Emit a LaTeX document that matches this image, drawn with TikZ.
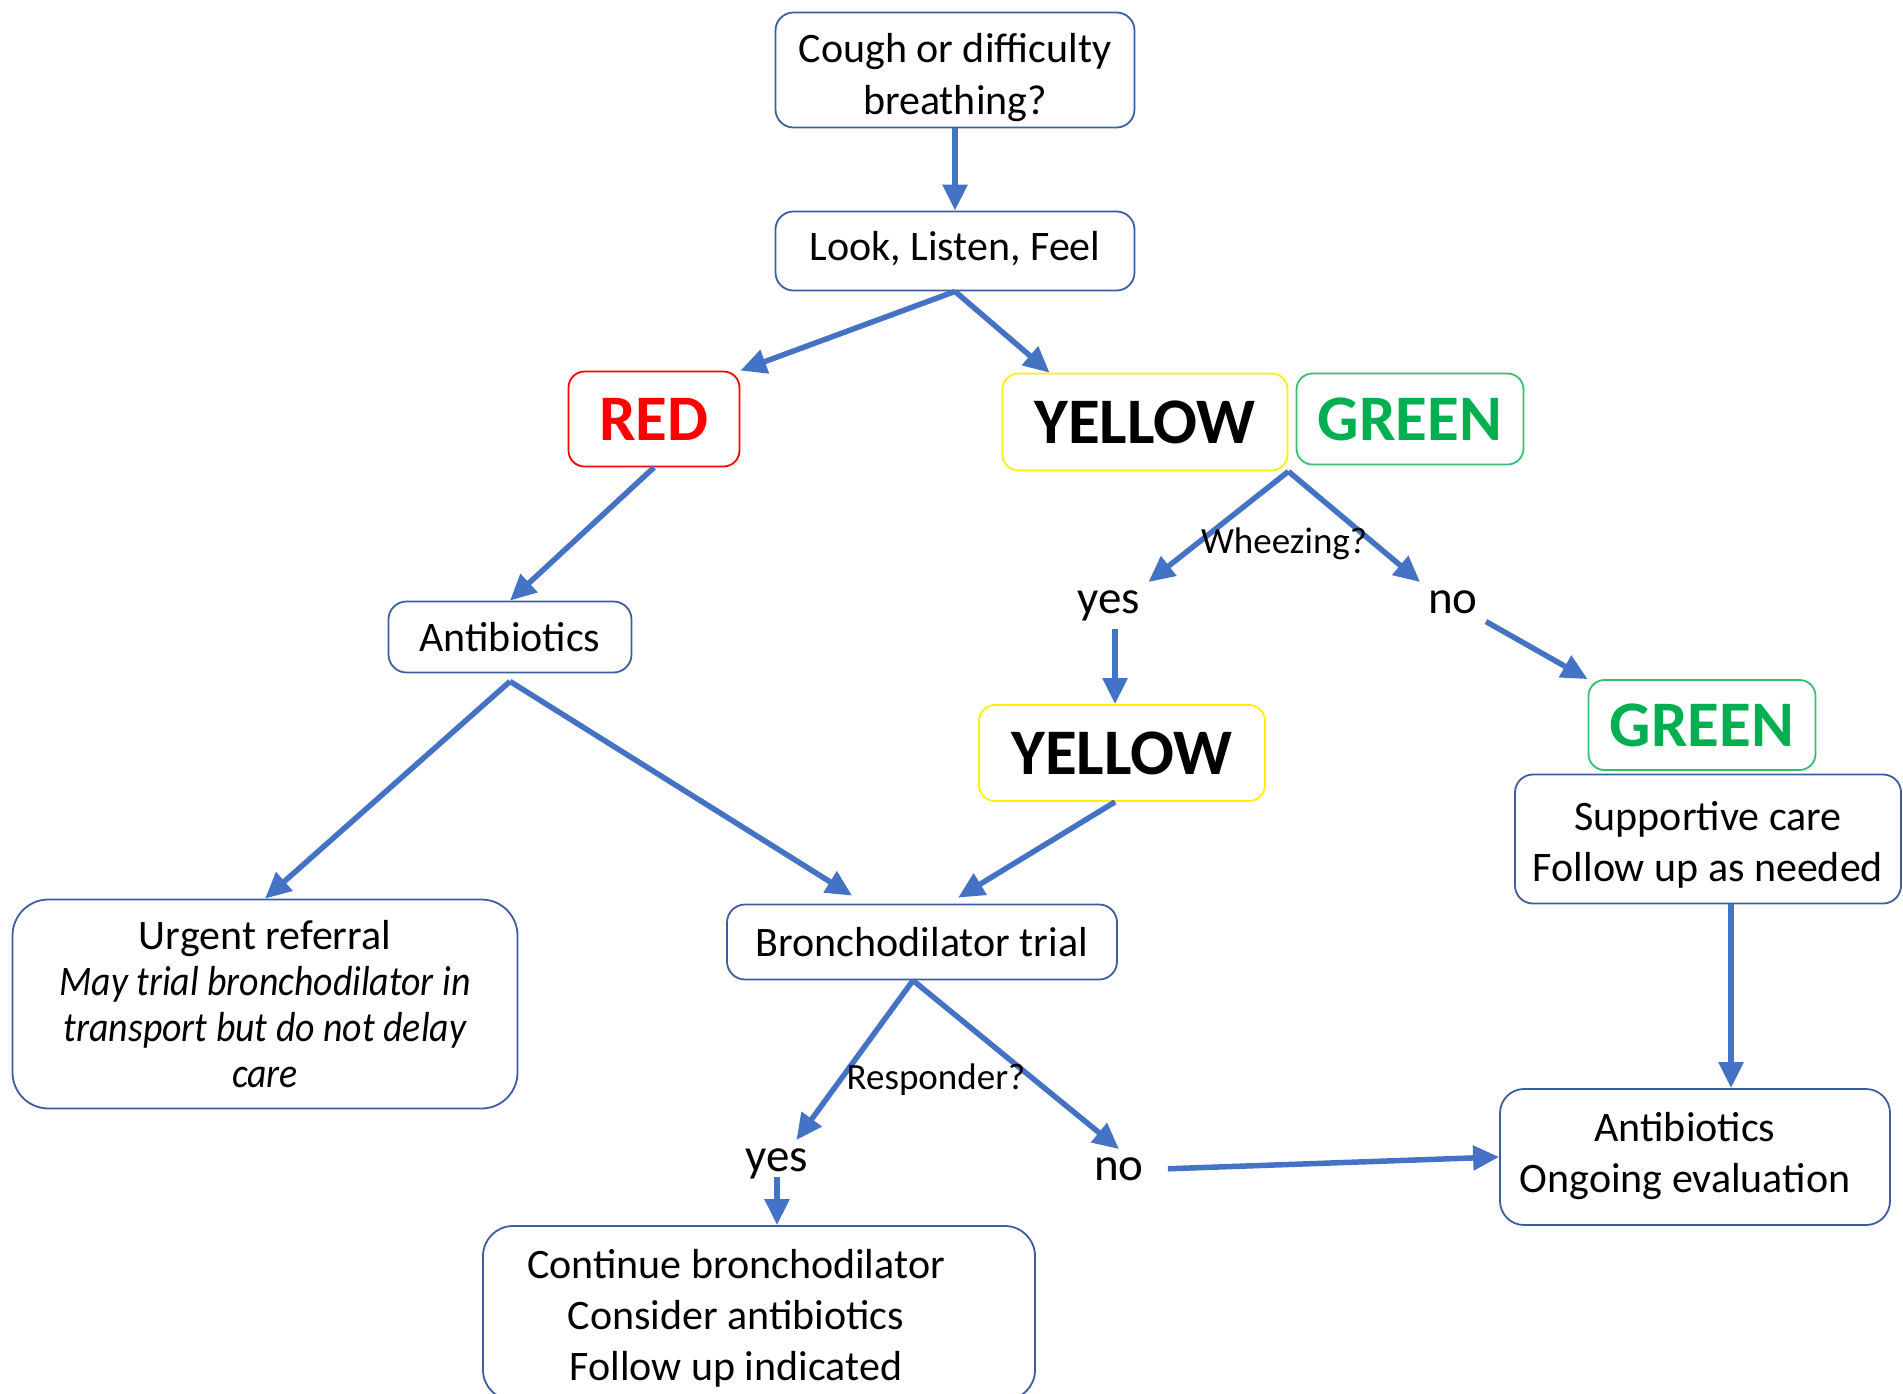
\documentclass[tikz,border=0pt]{standalone}
\usepackage{fontspec}
\setmainfont{Carlito}
\newfontfamily\narrowfam{Carlito}[FakeStretch=0.9]
\usetikzlibrary{arrows.meta, positioning}
\definecolor{arrowblue}{RGB}{68,114,196}
\definecolor{boxblue}{RGB}{59,94,160}
\definecolor{tagred}{RGB}{255,0,0}
\definecolor{tagyellow}{RGB}{255,240,0}
\definecolor{taggreen}{RGB}{0,176,80}

\begin{document}
\begin{tikzpicture}[
        x=1pt, y=-1pt,
        box/.style={rectangle, draw=boxblue, line width=1.8pt, rounded corners=18pt,
                    align=center, inner sep=0pt, font=\fontsize{42}{51}\selectfont},
        tag/.style={rectangle, line width=1.8pt, rounded corners=16pt, inner sep=0pt,
                    font=\fontsize{65}{78}\selectfont\bfseries},
        redtag/.style={tag, draw=tagred, text=tagred},
        yellowtag/.style={tag, draw=tagyellow, text=black},
        greentag/.style={tag, draw=taggreen!80, text=taggreen},
        answer/.style={inner sep=8pt, font=\fontsize{47}{56}\selectfont},
        question/.style={inner sep=0pt, font=\fontsize{37}{44}\selectfont},
        arrow/.style={draw=arrowblue, line width=5.5pt, -{Triangle[length=26pt, width=24pt]}}
    ]
        \useasboundingbox (0,0) rectangle (1903,1393);

        \node[box, minimum width=359pt, minimum height=115pt, font=\fontsize{42}{52}\selectfont] (cough) at (955,70)
              {\rule{0pt}{44pt}Cough or difficulty\\breathing?};
        \node[box, minimum width=359pt, minimum height=79pt] (look) at (955,251) {Look, Listen, Feel\rule[-11pt]{0pt}{0pt}};

        \node[redtag, minimum width=171pt, minimum height=95pt] (red) at (654,419) {RED};
        \node[yellowtag, minimum width=285pt, minimum height=97pt] (yellowA) at (1145,422) {YELLOW};
        \node[greentag, minimum width=227pt, minimum height=91pt] (greenA) at (1410,419) {GREEN};

        \node[box, minimum width=243pt, minimum height=71pt] (antibA) at (510,637) {Antibiotics};
        \node[box, minimum width=505pt, minimum height=209pt, rounded corners=36pt,
              font=\fontsize{42}{46}\selectfont] (urgent) at (265,1004)
              {Urgent referral\\\narrowfam\itshape May trial bronchodilator in\\\narrowfam\itshape transport but do not delay\\\narrowfam\itshape care};
        \node[box, minimum width=390pt, minimum height=75pt] (broncho) at (922,942) {Bronchodilator trial};

        \node[answer, anchor=base] (yesA) at (1109,613) {yes};
        \node[answer, anchor=base] (noA) at (1453,613) {no};
        \node[yellowtag, minimum width=286pt, minimum height=96pt] (yellowB) at (1122,753) {YELLOW};
        \node[greentag, minimum width=227pt, minimum height=90pt] (greenB) at (1702,725) {GREEN};
        \node[box, minimum width=386pt, minimum height=129pt] (support) at (1708,839)
              {\rule{0pt}{40pt}Supportive care\\Follow up as needed};
        \node[box, minimum width=390pt, minimum height=136pt, rounded corners=24pt] (antibB) at (1695,1157)
              {\begin{tabular}{@{}c@{\hspace{20pt}}}Antibiotics\\Ongoing evaluation\end{tabular}};

        \node[answer, anchor=base] (yesB) at (777,1171) {yes};
        \node[answer, anchor=base] (noB) at (1119,1180) {no};
        \node[box, minimum width=552pt, minimum height=174pt, rounded corners=30pt] (cont) at (759,1313)
              {\begin{tabular}{@{}c@{\hspace{46pt}}}\rule{0pt}{48pt}Continue bronchodilator\\Consider antibiotics\\Follow up indicated\end{tabular}};

        \draw[arrow] (cough) -- (look);
        \draw[arrow] (look.south) -- (red.north east);
        \draw[arrow] (look.south) -- ([xshift=48pt]yellowA.north west);
        \draw[arrow] (red.south) -- (antibA.north);
        \draw[arrow] ([yshift=-8pt]antibA.south) -- (urgent.north);
        \draw[arrow] ([yshift=-8pt]antibA.south) -- ([xshift=126pt, yshift=8pt]broncho.north west);

        \draw[arrow] (yellowA.south east) -- (yesA.north east);
        \draw[arrow] (yellowA.south east) -- (noA.north west);
        \draw[arrow] ([xshift=6pt]yesA.south) -- ([xshift=6pt]yesA.south |- yellowB.north);
        \draw[arrow] (noA.south east) -- (greenB.north west);
        \draw[arrow] ([xshift=-7pt]yellowB.south) -- ([xshift=232pt, yshift=6pt]broncho.north west);
        \draw[arrow] ([xshift=23pt]support.south) -- ([xshift=23pt]support.south |- antibB.north);

        \draw[arrow] ([xshift=-9pt]broncho.south) -- ([xshift=-20pt]yesB.north east);
        \draw[arrow] ([xshift=-9pt]broncho.south) -- (noB.north);
        \draw[arrow] ([yshift=10pt]yesB.south) -- (yesB.south |- cont.north);
        \draw[arrow] ([xshift=16pt]noB.east) -- (antibB.west);

        \node[question, anchor=base] (wheeze) at (1284,553) {Wheezing?};
        \node[question, anchor=base] (respond) at (936,1089) {Responder?};
    \end{tikzpicture}
\end{document}
